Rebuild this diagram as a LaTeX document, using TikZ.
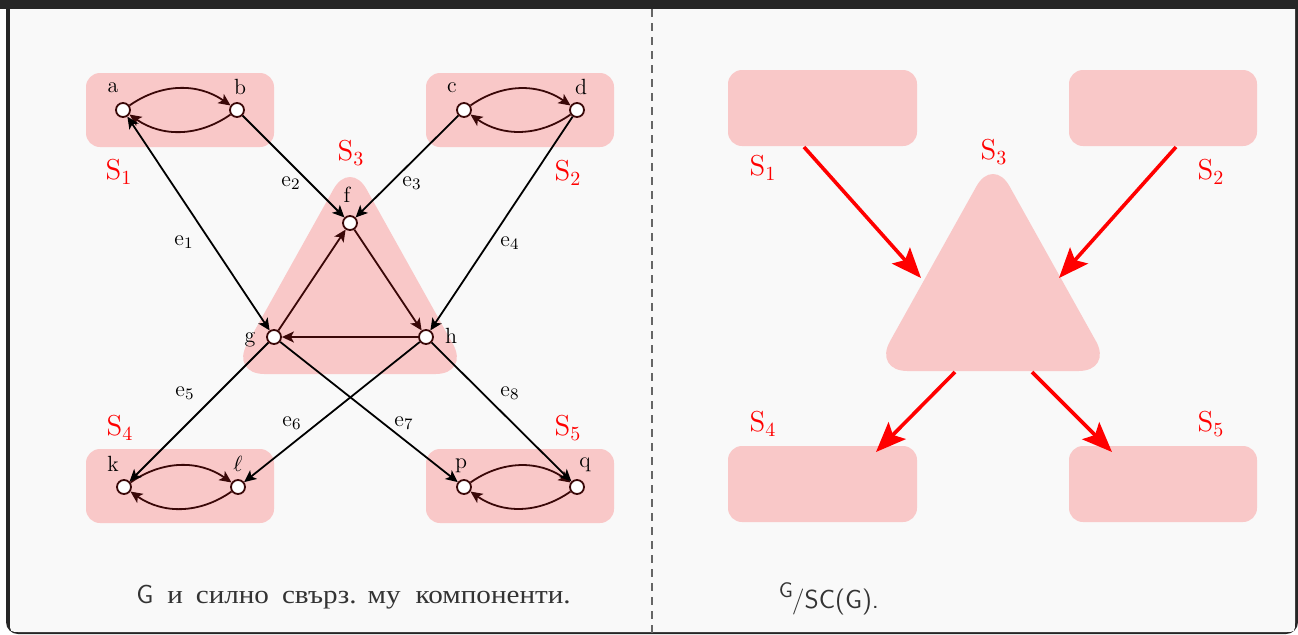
\documentclass[tikz,border=0pt]{standalone}
\usepackage{fontspec}
\newfontfamily\cyr[FakeStretch=1.12]{Liberation Serif}
\usetikzlibrary{arrows.meta}
\definecolor{framec}{HTML}{262626}
\definecolor{bgc}{HTML}{F9F9F9}
\definecolor{comp}{HTML}{F9C8C8}
\definecolor{edgec}{HTML}{3A0808}
\definecolor{capc}{HTML}{333333}
\definecolor{dashc}{HTML}{666666}
\tikzset{
  vtx/.style={circle,draw=edgec,fill=white,line width=0.9pt,minimum size=7pt,inner sep=0pt},
  lab/.style={font=\fontsize{11}{13}\selectfont,inner sep=0pt},
  elab/.style={font=\fontsize{11}{13}\selectfont,inner sep=0pt},
  slab/.style={font=\Large,text=red,inner sep=0pt},
  ed/.style={draw=edgec,line width=0.9pt,-{Stealth[length=6pt,width=5.5pt,inset=1.5pt]}},
  xed/.style={draw=black,line width=0.9pt,-{Stealth[length=6pt,width=5.5pt,inset=1.5pt]}},
  compbox/.style={fill=comp,rounded corners=7pt},
  redarr/.style={draw=red,line width=1.8pt,-{Stealth[length=15pt,width=12pt,inset=3pt]}},
  pics/comptri/.style={code={
    \fill[comp,rounded corners=17pt] (0,197) -- (-119.6,197) -- (0,-17.4) -- (119.6,197) -- cycle;
  }},
}
\begin{document}
\begin{tikzpicture}[x=0.5pt,y=-0.5pt]
\useasboundingbox (0,0) rectangle (1298,634);
\clip (0,0) rectangle (1298,634);
\fill[white] (0,0) rectangle (1298,634);
% frame
\fill[framec,rounded corners=6pt] (6,-20) rectangle (1298,634);
\fill[framec] (0,0) rectangle (1298,9);
\fill[bgc] (10,9) -- (1295,9) -- (1295,622) .. controls (1295,632) .. (1285,632)
  -- (20,632) .. controls (10,632) .. (10,622) -- cycle;
\draw[dashc,line width=0.6pt,dash pattern=on 4pt off 3pt] (652,9) -- (652,634);

% ---------- left panel ----------
\fill[compbox] (86,73) rectangle (274,147);
\fill[compbox] (426,73) rectangle (614,147);
\fill[compbox] (86,449) rectangle (274,523);
\fill[compbox] (426,449) rectangle (614,523);
\pic at (350,177) {comptri};

\node[slab] (s1) at (119,172) {S$_1$};
\node[slab] (s2) at (568,173) {S$_2$};
\node[slab] (s3) at (351,153) {S$_3$};
\node[slab] (s4) at (120,428) {S$_4$};
\node[slab] (s5) at (568,428) {S$_5$};

\node[vtx] (a) at (123,110) {};
\node[vtx] (b) at (237,110) {};
\node[vtx] (c) at (464,110) {};
\node[vtx] (d) at (577,110) {};
\node[vtx] (f) at (350,223) {};
\node[vtx] (g) at (274,337) {};
\node[vtx] (h) at (426,337) {};
\node[vtx] (k) at (124,487) {};
\node[vtx] (l) at (238,487) {};
\node[vtx] (p) at (464,487) {};
\node[vtx] (q) at (577,487) {};

\node[lab] (la) at (113,88) {a};
\node[lab] (lb) at (240,87) {b};
\node[lab] (lc) at (452,88) {c};
\node[lab] (ld) at (581,87) {d};
\node[lab] (lf) at (347,195) {f};
\node[lab] (lg) at (250,340) {g};
\node[lab] (lh) at (451,336) {h};
\node[lab] (lk) at (113,464) {k};
\node[lab] (ll) at (238,464) {$\ell$};
\node[lab] (lp) at (461,466) {p};
\node[lab] (lq) at (585,465) {q};

\draw[ed] (a) to[bend left=35] (b);
\draw[ed] (b) to[bend left=35] (a);
\draw[ed] (c) to[bend left=35] (d);
\draw[ed] (d) to[bend left=35] (c);
\draw[ed] (k) to[bend left=35] (l);
\draw[ed] (l) to[bend left=35] (k);
\draw[ed] (p) to[bend left=35] (q);
\draw[ed] (q) to[bend left=35] (p);

\draw[ed] (g) -- (f);
\draw[ed] (f) -- (h);
\draw[ed] (h) -- (g);

\draw[xed,{Stealth[length=6pt,width=5.5pt,inset=1.5pt]}-{Stealth[length=6pt,width=5.5pt,inset=1.5pt]}] (g) -- (a);
\draw[xed] (b) -- (f);
\draw[xed] (c) -- (f);
\draw[xed] (d) -- (h);
\draw[xed] (g) -- (k);
\draw[xed] (h) -- (l);
\draw[xed] (g) -- (p);
\draw[xed] (h) -- (q);

\node[elab] (e1) at (184,242) {e$_1$};
\node[elab] (e2) at (291,183) {e$_2$};
\node[elab] (e3) at (412,183) {e$_3$};
\node[elab] (e4) at (510,243) {e$_4$};
\node[elab] (e5) at (185,393) {e$_5$};
\node[elab] (e6) at (292,423) {e$_6$};
\node[elab] (e7) at (404,423) {e$_7$};
\node[elab] (e8) at (510,393) {e$_8$};

\node[text=capc,font=\fontsize{13}{15}\selectfont,anchor=base] (capL) at (353.5,603)
  {\sffamily G\hspace{7pt}\cyr и\hspace{6.5pt}силно\hspace{6.5pt}свърз.\hspace{5.5pt}му\hspace{7.5pt}компоненти.};

% ---------- right panel ----------
\fill[compbox] (728,70) rectangle (917,146);
\fill[compbox] (1069,70) rectangle (1257,146);
\fill[compbox] (728,446) rectangle (917,522);
\fill[compbox] (1069,446) rectangle (1257,522);
\pic at (993,174) {comptri};

\node[slab] (t1) at (763,168) {S$_1$};
\node[slab] (t2) at (1211,172) {S$_2$};
\node[slab] (t3) at (994,152) {S$_3$};
\node[slab] (t4) at (763,424) {S$_4$};
\node[slab] (t5) at (1211,424) {S$_5$};

\coordinate (o1) at (804,147);
\coordinate (o2) at (1176,147);
\coordinate (i1) at (921,278);
\coordinate (i2) at (1059,278);
\coordinate (o3) at (955,372);
\coordinate (o4) at (1032,372);
\coordinate (i4) at (876,452);
\coordinate (i5) at (1112,452);
\draw[redarr] (o1) -- (i1);
\draw[redarr] (o2) -- (i2);
\draw[redarr] (o3) -- (i4);
\draw[redarr] (o4) -- (i5);

\node[text=capc,font=\sffamily\fontsize{13}{15}\selectfont,anchor=base] (capR) at (829,608)
  {\raisebox{5.5pt}{\fontsize{10.5}{12}\selectfont G}\kern-0.5pt/SC(G).};
\end{tikzpicture}
\end{document}
